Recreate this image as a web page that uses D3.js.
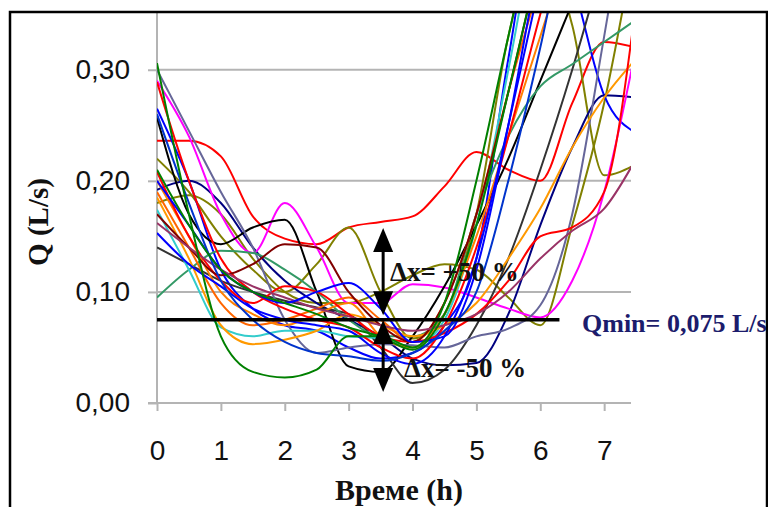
<!DOCTYPE html>
<html>
<head>
<meta charset="utf-8">
<script src="https://cdn.jsdelivr.net/npm/d3@7"></script>
<style>
  body { margin: 0; background: #fff; }
  svg { display: block; }
</style>
</head>
<body>
<svg id="chart"></svg>
<script>
const width = 768;
const height = 507;

const hours = [0, 0.5, 1, 1.5, 2, 2.5, 3, 3.5, 4, 4.5, 5, 5.5, 6, 6.5, 7, 7.5];
const xTicks = [0, 1, 2, 3, 4, 5, 6, 7];
const yTicks = [0, 0.1, 0.2, 0.3];
const qmin = 0.075;
const qminEnd = 6.3;
// the two +/-50 % arrows: [bottom, top] in L/s, drawn at t = 3.54 h
const arrowAt = 3.54;
const arrows = [[0.079, 0.1575], [0.01, 0.0747]];

// one colour and one list of Q (L/s) per day
const curveColors = [
    "#ff0000", "#808000", "#808000", "#0000ff", "#000080", "#ff00ff",
    "#000000", "#333333", "#666699", "#339966", "#33cccc", "#ff9900",
    "#ff6600", "#ff7f00", "#ff0000", "#ff0000", "#800000", "#993366",
    "#0000ff", "#0000ff", "#0033cc", "#008000", "#008000"
];
const curveValues = [
    [0.236, 0.236, 0.222, 0.168, 0.148, 0.143, 0.158, 0.163, 0.168, 0.195, 0.226, 0.21, 0.2, 0.27, 0.325, 0.32],
    [0.22, 0.19, 0.15, 0.12, 0.1, 0.125, 0.158, 0.1, 0.058, 0.08, 0.17, 0.33, 0.42, 0.34, 0.205, 0.215],
    [0.18, 0.187, 0.17, 0.13, 0.1, 0.09, 0.09, 0.1, 0.115, 0.125, 0.12, 0.095, 0.07, 0.16, 0.27, 0.42],
    [0.265, 0.2, 0.12, 0.085, 0.07, 0.065, 0.05, 0.04, 0.045, 0.07, 0.13, 0.31, 0.45, 0.38, 0.277, 0.243],
    [0.192, 0.2, 0.18, 0.14, 0.11, 0.09, 0.075, 0.06, 0.04, 0.034, 0.036, 0.08, 0.16, 0.23, 0.277, 0.275],
    [0.29, 0.24, 0.17, 0.135, 0.18, 0.14, 0.09, 0.09, 0.107, 0.104, 0.095, 0.085, 0.077, 0.11, 0.19, 0.32],
    [0.257, 0.17, 0.143, 0.158, 0.165, 0.1, 0.033, 0.028, 0.06, 0.105, 0.16, 0.22, 0.29, 0.36, 0.43, 0.5],
    [0.14, 0.125, 0.11, 0.1, 0.092, 0.086, 0.08, 0.05, 0.018, 0.03, 0.07, 0.13, 0.21, 0.3, 0.4, 0.5],
    [0.30, 0.245, 0.19, 0.14, 0.075, 0.045, 0.05, 0.053, 0.052, 0.05, 0.06, 0.067, 0.088, 0.17, 0.33, 0.5],
    [0.095, 0.12, 0.137, 0.135, 0.12, 0.1, 0.075, 0.06, 0.06, 0.08, 0.17, 0.24, 0.285, 0.305, 0.325, 0.345],
    [0.174, 0.12, 0.068, 0.06, 0.065, 0.065, 0.06, 0.058, 0.05, 0.075, 0.16, 0.3, 0.45, 0.55, 0.6, 0.6],
    [0.185, 0.13, 0.07, 0.053, 0.057, 0.065, 0.08, 0.07, 0.06, 0.07, 0.09, 0.13, 0.175, 0.23, 0.275, 0.31],
    [0.19, 0.14, 0.09, 0.07, 0.075, 0.085, 0.095, 0.075, 0.055, 0.09, 0.17, 0.28, 0.38, 0.48, 0.55, 0.6],
    [0.2, 0.15, 0.1, 0.08, 0.07, 0.08, 0.09, 0.06, 0.05, 0.08, 0.15, 0.24, 0.33, 0.42, 0.5, 0.55],
    [0.289, 0.2, 0.13, 0.1, 0.085, 0.075, 0.068, 0.05, 0.04, 0.07, 0.14, 0.24, 0.35, 0.45, 0.5, 0.55],
    [0.208, 0.15, 0.11, 0.09, 0.105, 0.1, 0.08, 0.06, 0.055, 0.063, 0.08, 0.11, 0.15, 0.158, 0.19, 0.36],
    [0.17, 0.14, 0.115, 0.125, 0.143, 0.14, 0.1, 0.07, 0.055, 0.09, 0.17, 0.28, 0.4, 0.5, 0.55, 0.6],
    [0.162, 0.14, 0.12, 0.105, 0.095, 0.085, 0.078, 0.07, 0.065, 0.07, 0.08, 0.1, 0.13, 0.155, 0.175, 0.22],
    [0.153, 0.125, 0.105, 0.085, 0.075, 0.07, 0.065, 0.045, 0.035, 0.06, 0.13, 0.25, 0.38, 0.5, 0.55, 0.6],
    [0.2, 0.16, 0.12, 0.1, 0.09, 0.1, 0.108, 0.085, 0.055, 0.06, 0.12, 0.25, 0.4, 0.5, 0.55, 0.6],
    [0.26, 0.18, 0.11, 0.075, 0.055, 0.045, 0.042, 0.038, 0.045, 0.065, 0.1, 0.2, 0.32, 0.45, 0.5, 0.55],
    [0.306, 0.17, 0.06, 0.028, 0.023, 0.03, 0.06, 0.06, 0.05, 0.09, 0.2, 0.33, 0.45, 0.5, 0.55, 0.6],
    [0.21, 0.16, 0.12, 0.1, 0.09, 0.08, 0.068, 0.06, 0.048, 0.08, 0.16, 0.28, 0.4, 0.5, 0.55, 0.6]
];

const margin = { left: 157, right: 137, top: 12, bottom: 104 };
const x = d3.scaleLinear().domain([0, 7.42]).range([margin.left, width - margin.right]);
const y = d3.scaleLinear().domain([0, 0.352]).range([height - margin.bottom, margin.top]);

const comma = d3.formatLocale({ decimal: ",", thousands: ".", grouping: [3], currency: ["", ""] });
const gray = "#b4b4b4";
const serif = "'Liberation Serif', 'Times New Roman', serif";
const sans = "Arial, 'Liberation Sans', Helvetica, sans-serif";

const svg = d3.select("#chart")
    .attr("width", width)
    .attr("height", height);

svg.append("rect")
    .attr("width", width)
    .attr("height", height)
    .attr("fill", "#fff");

svg.append("clipPath")
    .attr("id", "plot-clip")
    .append("rect")
    .attr("x", x(0))
    .attr("y", y(0.352))
    .attr("width", x(7.42) - x(0))
    .attr("height", y(0) - y(0.352));

// gridlines
svg.append("g")
    .selectAll("line").data(yTicks.filter(d => d > 0)).enter()
    .append("line")
    .attr("x1", x(0))
    .attr("x2", x(7.42))
    .attr("y1", d => y(d))
    .attr("y2", d => y(d))
    .attr("stroke", gray)
    .attr("stroke-width", 2);

// y axis
const yAxis = svg.append("g")
    .attr("transform", "translate(" + x(0) + ",0)")
    .call(d3.axisLeft(y).tickValues(yTicks).tickSize(9).tickPadding(18).tickFormat(comma.format(".2f")));
yAxis.select(".domain").attr("stroke", gray).attr("stroke-width", 2).attr("d", "M0," + y(0) + "V" + y(0.352));
yAxis.selectAll(".tick line").attr("stroke", gray).attr("stroke-width", 2);
yAxis.selectAll("text")
    .attr("font-family", sans)
    .attr("font-size", 28)
    .attr("fill", "#111");

// x axis
const xAxis = svg.append("g")
    .attr("transform", "translate(0," + y(0) + ")")
    .call(d3.axisBottom(x).tickValues(xTicks).tickSize(8).tickPadding(29).tickFormat(d3.format("d")));
xAxis.select(".domain").attr("stroke", gray).attr("stroke-width", 2).attr("d", "M" + (x(0) - 9) + ",0H" + x(7.42));
xAxis.selectAll(".tick line").attr("stroke", gray).attr("stroke-width", 2);
xAxis.selectAll("text")
    .attr("font-family", sans)
    .attr("font-size", 28)
    .attr("fill", "#111");

// flow curves
const line = d3.line()
    .x((d, i) => x(hours[i]))
    .y(d => y(d))
    .curve(d3.curveMonotoneX);

svg.append("g")
    .attr("clip-path", "url(#plot-clip)")
    .selectAll("path").data(curveValues).enter()
    .append("path")
    .attr("d", line)
    .attr("fill", "none")
    .attr("stroke", (d, i) => curveColors[i])
    .attr("stroke-width", 2);

// Qmin line
svg.append("line")
    .attr("x1", x(0))
    .attr("x2", x(qminEnd))
    .attr("y1", y(qmin))
    .attr("y2", y(qmin))
    .attr("stroke", "#000")
    .attr("stroke-width", 3.5);

svg.append("text")
    .attr("x", 582)
    .attr("y", 332)
    .attr("font-family", serif)
    .attr("font-weight", "bold")
    .attr("font-size", 26)
    .attr("fill", "#1c1c6c")
    .text("Qmin= 0,075 L/s");

// +/-50 % double arrows
const arrowG = svg.append("g");
arrows.forEach(a => {
    const ax = x(arrowAt);
    const yb = y(a[0]);
    const yt = y(a[1]);
    arrowG.append("line")
        .attr("x1", ax).attr("x2", ax)
        .attr("y1", yb - 20).attr("y2", yt + 20)
        .attr("stroke", "#000")
        .attr("stroke-width", 3);
    arrowG.append("path")
        .attr("d", "M" + ax + "," + yt + "L" + (ax - 10) + "," + (yt + 24) + "L" + (ax + 10) + "," + (yt + 24) + "Z")
        .attr("fill", "#000");
    arrowG.append("path")
        .attr("d", "M" + ax + "," + yb + "L" + (ax - 10) + "," + (yb - 24) + "L" + (ax + 10) + "," + (yb - 24) + "Z")
        .attr("fill", "#000");
});

svg.append("text")
    .attr("x", 390)
    .attr("y", 281)
    .attr("font-family", serif)
    .attr("font-weight", "bold")
    .attr("font-size", 27)
    .attr("fill", "#111")
    .text("Δx= +50 %");

svg.append("text")
    .attr("x", 404)
    .attr("y", 377)
    .attr("font-family", serif)
    .attr("font-weight", "bold")
    .attr("font-size", 27)
    .attr("fill", "#111")
    .text("Δx= -50 %");

// axis titles
svg.append("text")
    .attr("transform", "translate(48,222) rotate(-90)")
    .attr("text-anchor", "middle")
    .attr("font-family", serif)
    .attr("font-weight", "bold")
    .attr("font-size", 29)
    .attr("fill", "#111")
    .text("Q (L/s)");

svg.append("text")
    .attr("x", 399)
    .attr("y", 500)
    .attr("text-anchor", "middle")
    .attr("font-family", serif)
    .attr("font-weight", "bold")
    .attr("font-size", 30)
    .attr("fill", "#111")
    .text("Време (h)");

// outer frame
svg.append("rect")
    .attr("x", 10)
    .attr("y", 12)
    .attr("width", 757)
    .attr("height", 520)
    .attr("fill", "none")
    .attr("stroke", "#000")
    .attr("stroke-width", 2.5);
</script>
</body>
</html>
